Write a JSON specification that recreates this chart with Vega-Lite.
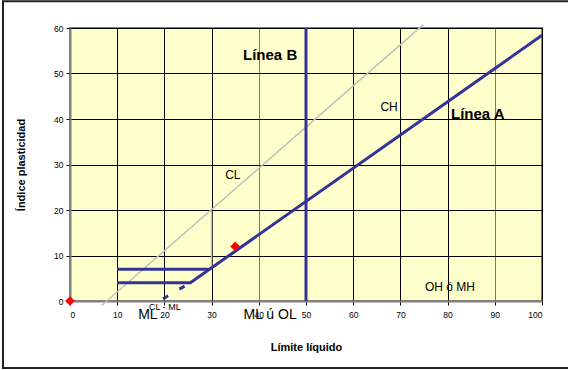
{
  "$schema": "https://vega.github.io/schema/vega-lite/v6.json",
  "width": 472,
  "height": 273,
  "autosize": "none",
  "padding": {"left": 70, "top": 28, "right": 26, "bottom": 69},
  "background": "white",
  "config": {
    "font": "Liberation Sans",
    "view": {"fill": "#FFFFCC", "stroke": "#808080", "strokeWidth": 2},
    "axis": {
      "grid": true,
      "gridOpacity": 1,
      "gridWidth": 1,
      "domainColor": "#808080",
      "domainWidth": 2,
      "tickColor": "#000000",
      "tickSize": 4,
      "labelFontSize": 8.5,
      "labelColor": "#000000",
      "titleFontSize": 11,
      "titleFontWeight": "bold",
      "titleColor": "#000000"
    }
  },
  "datasets": {
    "frame": [{"x1": -14.2, "x2": 106, "y1": 65.9, "y2": -14.7}],
    "blue": [
      {"s": "A", "o": 1, "LL": 10, "PI": 4},
      {"s": "A", "o": 2, "LL": 25.5, "PI": 4},
      {"s": "A", "o": 3, "LL": 100, "PI": 58.4},
      {"s": "H7", "o": 1, "LL": 10, "PI": 7},
      {"s": "H7", "o": 2, "LL": 29.6, "PI": 7},
      {"s": "B", "o": 1, "LL": 50, "PI": 0},
      {"s": "B", "o": 2, "LL": 50, "PI": 60}
    ],
    "gray": [
      {"s": "U", "o": 1, "LL": 6.7, "PI": -1.0},
      {"s": "U", "o": 2, "LL": 74.8, "PI": 60.7},
      {"s": "V30", "o": 1, "LL": 30, "PI": 7},
      {"s": "V30", "o": 2, "LL": 30, "PI": 19.8}
    ],
    "dash": [
      {"o": 1, "LL": 19.7, "PI": 0.5},
      {"o": 2, "LL": 25.5, "PI": 4}
    ],
    "points": [
      {"LL": 0, "PI": 0},
      {"LL": 35, "PI": 12}
    ],
    "bold": [
      {"t": "Línea B", "LL": 42.4, "PI": 54.1},
      {"t": "Línea A", "LL": 86.4, "PI": 41.1}
    ],
    "mid": [
      {"t": "CH", "LL": 67.6, "PI": 42.6},
      {"t": "CL", "LL": 34.5, "PI": 27.7},
      {"t": "OH ó MH", "LL": 80.5, "PI": 3.1}
    ],
    "big": [
      {"t": "ML", "LL": 16.5, "PI": -3.1},
      {"t": "ML ú OL", "LL": 42.4, "PI": -3.1}
    ],
    "small": [
      {"t": "CL - ML", "LL": 20.1, "PI": -1.3}
    ]
  },
  "encoding": {
    "x": {
      "field": "LL",
      "type": "quantitative",
      "scale": {"domain": [0, 100], "nice": false, "zero": false},
      "axis": {
        "values": [0, 10, 20, 30, 40, 50, 60, 70, 80, 90, 100],
        "labelPadding": 5,
        "title": "Límite líquido",
        "titlePadding": 23,
        "gridColor": {"condition": {"test": "datum.value == 40 || datum.value == 90", "value": "#7a7a6a"}, "value": "#000000"}
      }
    },
    "y": {
      "field": "PI",
      "type": "quantitative",
      "scale": {"domain": [0, 60], "nice": false, "zero": false},
      "axis": {"values": [0, 10, 20, 30, 40, 50, 60], "labelPadding": 3, "title": "Índice plasticidad", "titlePadding": 27, "gridColor": "#000000"}
    }
  },
  "layer": [
    {
      "data": {"name": "frame"},
      "mark": {"type": "rect", "fill": null, "fillOpacity": 0, "stroke": "#222222", "strokeWidth": 2, "clip": false},
      "encoding": {
        "x": {"field": "x1", "type": "quantitative"},
        "x2": {"field": "x2"},
        "y": {"field": "y1", "type": "quantitative"},
        "y2": {"field": "y2"}
      }
    },
    {
      "data": {"name": "gray"},
      "mark": {"type": "line", "color": "#C0C0C0", "strokeWidth": 1.5, "clip": false},
      "encoding": {"detail": {"field": "s"}, "order": {"field": "o"}}
    },
    {
      "data": {"name": "blue"},
      "mark": {"type": "line", "color": "#333399", "strokeWidth": 3, "strokeJoin": "miter", "clip": false},
      "encoding": {"detail": {"field": "s"}, "order": {"field": "o"}}
    },
    {
      "data": {"name": "dash"},
      "mark": {"type": "line", "color": "#333399", "strokeWidth": 3, "strokeDash": [6, 13], "clip": false},
      "encoding": {"order": {"field": "o"}}
    },
    {
      "data": {"name": "points"},
      "mark": {"type": "point", "shape": "diamond", "filled": true, "color": "#FF0000", "size": 95, "opacity": 1, "clip": false},
      "encoding": {}
    },
    {
      "data": {"name": "bold"},
      "mark": {"type": "text", "color": "#000000", "fontSize": 15, "fontWeight": "bold", "align": "center", "baseline": "middle", "clip": false},
      "encoding": {"text": {"field": "t"}}
    },
    {
      "data": {"name": "mid"},
      "mark": {"type": "text", "color": "#000000", "fontSize": 12, "align": "center", "baseline": "middle", "clip": false},
      "encoding": {"text": {"field": "t"}}
    },
    {
      "data": {"name": "big"},
      "mark": {"type": "text", "color": "#000000", "fontSize": 14, "align": "center", "baseline": "middle", "clip": false},
      "encoding": {"text": {"field": "t"}}
    },
    {
      "data": {"name": "small"},
      "mark": {"type": "text", "color": "#000000", "fontSize": 9, "align": "center", "baseline": "middle", "clip": false},
      "encoding": {"text": {"field": "t"}}
    }
  ]
}
